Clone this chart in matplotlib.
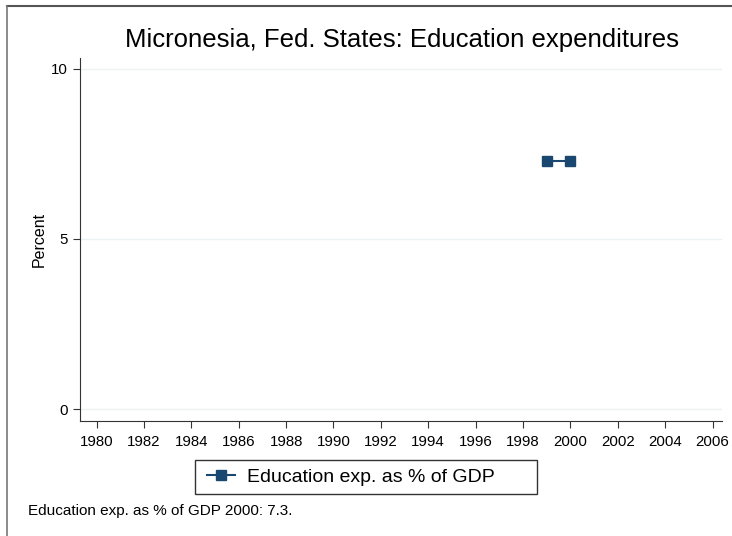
import matplotlib.pyplot as plt
from matplotlib.lines import Line2D
from matplotlib.patches import Rectangle

plt.rcParams["font.family"] = ["Liberation Sans", "DejaVu Sans"]

years = [1999, 2000]
edu_exp = [7.3, 7.3]
xticks = list(range(1980, 2007, 2))
yticks = [0, 5, 10]

navy = "#1a476f"


def main():
    fig = plt.figure(figsize=(7.32, 5.36), dpi=100)
    ax = fig.add_axes([80 / 732, 1 - 421 / 536, (722 - 80) / 732, (421 - 58) / 536])

    for y in yticks:
        ax.axhline(y, color="#eaf2f3", linewidth=1, zorder=0)

    ax.plot(years, edu_exp, color=navy, marker="s", markersize=7, linewidth=1.5,
            label="Education exp. as % of GDP")

    ax.set_xlim(1979.3, 2006.4)
    ax.set_ylim(-0.35, 10.32)
    ax.set_xticks(xticks)
    ax.set_yticks(yticks)
    ax.tick_params(axis="both", labelsize=10.8, length=5, color="#333333")
    ax.tick_params(axis="x", pad=5)
    ax.spines["top"].set_visible(False)
    ax.spines["right"].set_visible(False)
    ax.spines["left"].set_color("#333333")
    ax.spines["bottom"].set_color("#333333")
    ax.set_ylabel("Percent", fontsize=11.5, labelpad=3)

    fig.text(402 / 732, 1 - 40 / 536, "Micronesia, Fed. States: Education expenditures",
             ha="center", va="center", fontsize=18.5)

    # legend box spans roughly x 195..537, y 460..494 in the reference
    fig.add_artist(Rectangle((195 / 732, 1 - 494 / 536), 342 / 732, 34 / 536,
                             transform=fig.transFigure, facecolor="white",
                             edgecolor="#333333", linewidth=1))
    handle = Line2D([0], [0], color=navy, marker="s", markersize=7, linewidth=1.5)
    fig.legend([handle], ["Education exp. as % of GDP"], loc="center left",
               bbox_to_anchor=(207 / 732, 1 - 477 / 536), fontsize=14,
               frameon=False, handlelength=1.45, handletextpad=0.6,
               borderpad=0, borderaxespad=0)

    fig.text(28 / 732, 1 - 511 / 536, "Education exp. as % of GDP 2000: 7.3.",
             ha="left", va="center", fontsize=11)

    # outer frame lines (top and left)
    fig.add_artist(Line2D([7 / 732, 1], [1 - 6 / 536, 1 - 6 / 536], color="#555555", linewidth=1.5))
    fig.add_artist(Line2D([7 / 732, 7 / 732], [0, 1 - 6 / 536], color="#777777", linewidth=1.2))

    fig.savefig("out.png", dpi=100)


if __name__ == "__main__":
    main()
